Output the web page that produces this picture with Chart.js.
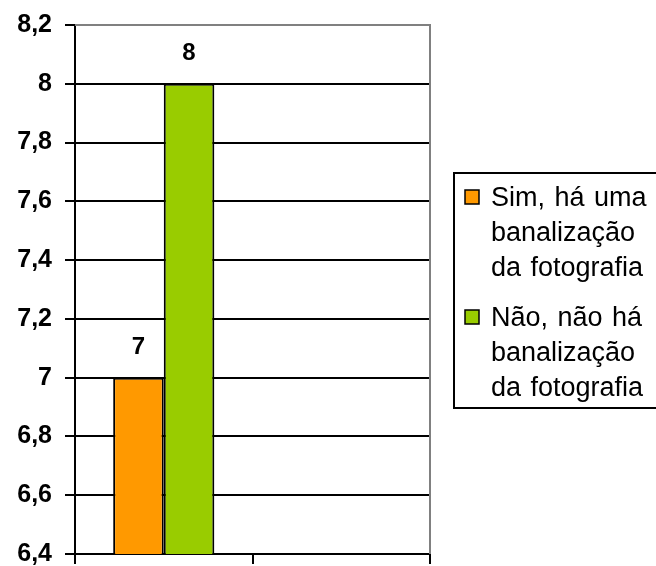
<!DOCTYPE html>
<html>
<head>
<meta charset="utf-8">
<script src="https://cdn.jsdelivr.net/npm/chart.js"></script>
<style>
  html, body { margin: 0; padding: 0; background: #fff; }
  #wrap { width: 656px; height: 566px; }
</style>
</head>
<body>
<div id="wrap"><canvas id="chart"></canvas></div>
<script>
var categories = ["", ""];
var seriesNames = [
  ["Sim, há uma", "banalização", "da fotografia"],
  ["Não, não há", "banalização", "da fotografia"],
];
var seriesValues = [
  [7, null],
  [8, null],
];
var seriesColors = ["#FF9900", "#99CC00"];
var yMin = 6.4;
var yMax = 8.2;
var yStep = 0.2;

function fmt(v) {
  return String(+v.toFixed(1)).replace(".", ",");
}

// value labels above the bars
var valueLabels = {
  id: "valueLabels",
  afterDatasetsDraw: function (chart) {
    var ctx = chart.ctx;
    ctx.save();
    ctx.font = "bold 24px 'Liberation Sans', Arial, sans-serif";
    ctx.fillStyle = "#000";
    ctx.textAlign = "center";
    ctx.textBaseline = "middle";
    chart.data.datasets.forEach(function (ds, i) {
      chart.getDatasetMeta(i).data.forEach(function (bar, j) {
        if (ds.data[j] == null) return;
        ctx.fillText(fmt(ds.data[j]), bar.x, bar.y - 30);
      });
    });
    ctx.restore();
  },
};

// plot border (top, right) and legend box on the right
var frameAndLegend = {
  id: "frameAndLegend",
  afterDraw: function (chart) {
    var ctx = chart.ctx;
    var a = chart.chartArea;
    ctx.save();
    ctx.strokeStyle = "#808080";
    ctx.lineWidth = 2;
    ctx.beginPath();
    ctx.moveTo(a.left, a.top);
    ctx.lineTo(a.right, a.top);
    ctx.lineTo(a.right, a.bottom);
    ctx.stroke();

    // legend
    ctx.strokeStyle = "#000";
    ctx.lineWidth = 2;
    ctx.strokeRect(454, 173, 220, 235);
    ctx.font = "27px 'Liberation Sans', Arial, sans-serif";
    ctx.wordSpacing = "2px";
    ctx.textAlign = "left";
    ctx.textBaseline = "alphabetic";
    var baselines = [206, 326];
    chart.data.datasets.forEach(function (ds, i) {
      var b = baselines[i];
      ctx.fillStyle = ds.backgroundColor;
      ctx.fillRect(465, b - 16, 14, 14);
      ctx.lineWidth = 1.5;
      ctx.strokeStyle = "#000";
      ctx.strokeRect(465, b - 16, 14, 14);
      ctx.fillStyle = "#000";
      seriesNames[i].forEach(function (line, k) {
        ctx.fillText(line, 491, b + k * 35);
      });
    });
    ctx.restore();
  },
};

new Chart("chart", {
  type: "bar",
  data: {
    labels: categories,
    datasets: seriesValues.map(function (vals, i) {
      return {
        label: seriesNames[i].join(" "),
        data: vals,
        backgroundColor: seriesColors[i],
        borderColor: "#000",
        borderWidth: 2,
        categoryPercentage: 0.57,
        barPercentage: 1,
      };
    }),
  },
  options: {
    responsive: true,
    maintainAspectRatio: false,
    animation: false,
    layout: { padding: { top: 25, right: 226, left: 0, bottom: 0 } },
    plugins: {
      legend: { display: false },
      tooltip: { enabled: false },
    },
    scales: {
      x: {
        grid: {
          drawOnChartArea: false,
          tickLength: 10,
          color: "#000",
          lineWidth: 2,
        },
        border: { color: "#000", width: 2 },
        ticks: { display: false },
        afterFit: function (s) {
          s.height = 12;
          s.paddingLeft = 0;
          s.paddingRight = 0;
        },
      },
      y: {
        min: yMin,
        max: yMax,
        ticks: {
          stepSize: yStep,
          padding: 13,
          color: "#000",
          font: { family: "'Liberation Sans', Arial, sans-serif", size: 25, weight: "bold" },
          callback: function (v) { return fmt(v); },
        },
        grid: {
          tickLength: 10,
          lineWidth: 2,
          color: function (c) {
            return c.tick && Math.abs(c.tick.value - yMax) < 1e-6 ? "#808080" : "#000";
          },
          tickColor: "#000",
        },
        border: { color: "#000", width: 2 },
        afterFit: function (s) {
          s.width = 75;
          s.paddingTop = 0;
          s.paddingBottom = 0;
        },
      },
    },
  },
  plugins: [valueLabels, frameAndLegend],
});
</script>
</body>
</html>
